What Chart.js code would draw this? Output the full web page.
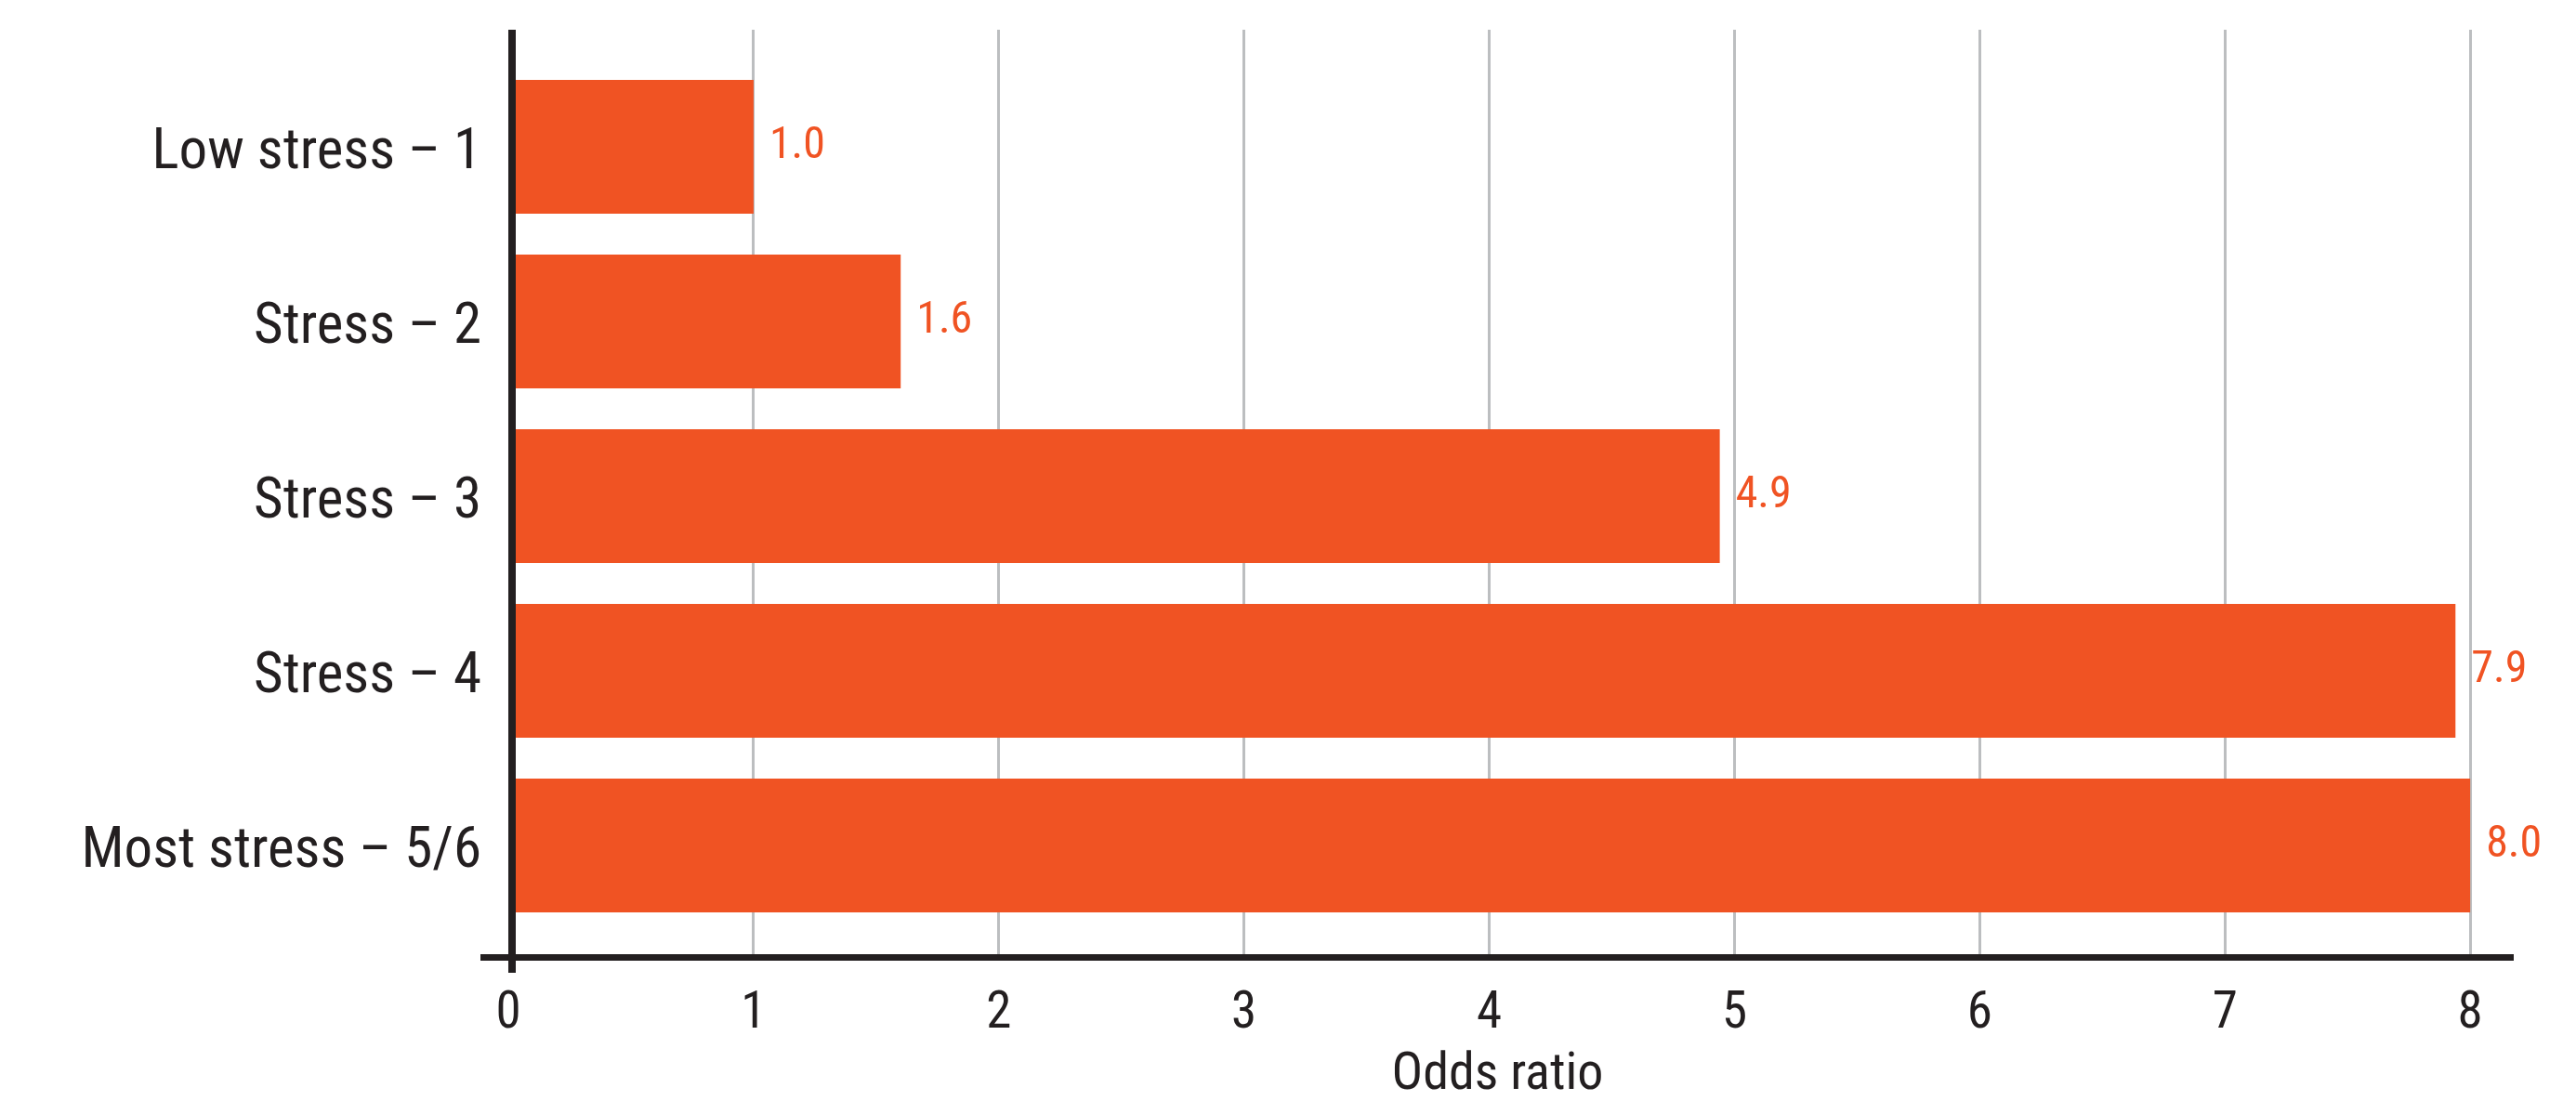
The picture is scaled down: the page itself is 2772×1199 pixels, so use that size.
<!DOCTYPE html>
<html>
<head>
<meta charset="utf-8">
<script src="https://cdn.jsdelivr.net/npm/chart.js@4/dist/chart.umd.min.js"></script>
<style>
    html, body { margin: 0; padding: 0; background: #fff; }
    #wrap { width: 2772px; height: 1199px; position: relative; }
</style>
</head>
<body>
<div id="wrap"><canvas id="oddsChart"></canvas></div>
<script>
const categories = ['Low stress – 1', 'Stress – 2', 'Stress – 3', 'Stress – 4', 'Most stress – 5/6'];
const oddsRatios = [1.0, 1.6, 4.94, 7.94, 8.0];
const xTicks = [0, 1, 2, 3, 4, 5, 6, 7, 8];
const axisTitle = 'Odds ratio';

const FONT = "'Roboto Condensed', 'DejaVu Sans Condensed', sans-serif";
const ORANGE = '#F05323';
const DARK = '#231F20';

// zero axis line + value labels, drawn on top of the bars
const overlayPlugin = {
    id: 'overlay',
    afterDatasetsDraw(chart) {
        const ctx = chart.ctx;
        const area = chart.chartArea;
        const x0 = chart.scales.x.getPixelForValue(0);
        ctx.save();
        ctx.fillStyle = DARK;
        ctx.fillRect(x0, area.top, 8, area.bottom - area.top + 17);

        ctx.font = '48px ' + FONT;
        ctx.fillStyle = ORANGE;
        ctx.textAlign = 'left';
        ctx.textBaseline = 'middle';
        chart.getDatasetMeta(0).data.forEach((bar, i) => {
            ctx.fillText(oddsRatios[i].toFixed(1), bar.x + 17, bar.y);
        });
        ctx.restore();
    }
};

const ctx = document.getElementById('oddsChart').getContext('2d');
new Chart(ctx, {
    type: 'bar',
    data: {
        datasets: [{
            data: oddsRatios.map((v, i) => ({ x: v, y: i })),
            backgroundColor: ORANGE,
            borderWidth: 0,
            categoryPercentage: 1,
            barPercentage: 0.766
        }]
    },
    options: {
        indexAxis: 'y',
        responsive: true,
        maintainAspectRatio: false,
        animation: false,
        layout: { padding: { top: 32, right: 69, bottom: 0, left: 0 } },
        scales: {
            x: {
                type: 'linear',
                min: -0.1023,
                max: 8.17,
                afterBuildTicks: axis => { axis.ticks = xTicks.map(v => ({ value: v })); },
                afterFit: scale => { scale.height = 169; },
                grid: {
                    color: c => (c.tick && c.tick.value === 0) ? 'rgba(0,0,0,0)' : '#BCBEC0',
                    lineWidth: 3,
                    drawTicks: false
                },
                border: { display: true, color: DARK, width: 7 },
                ticks: {
                    padding: 29,
                    color: DARK,
                    font: { family: FONT, size: 55 },
                    callback: v => v
                },
                title: {
                    display: true,
                    text: axisTitle,
                    color: DARK,
                    font: { family: FONT, size: 56 },
                    padding: { top: 0, bottom: 7 }
                }
            },
            y: {
                type: 'linear',
                reverse: true,
                offset: false,
                min: -0.670,
                max: 4.639,
                afterBuildTicks: axis => { axis.ticks = categories.map((c, i) => ({ value: i })); },
                afterFit: scale => {
                    scale.width = 520;
                    scale.paddingTop = 0;
                    scale.paddingBottom = 0;
                },
                grid: { display: false, drawTicks: false },
                border: { display: false },
                ticks: {
                    padding: 2,
                    labelOffset: 8,
                    color: DARK,
                    font: { family: FONT, size: 61 },
                    callback: v => categories[v]
                }
            }
        },
        plugins: {
            legend: { display: false },
            tooltip: { enabled: false }
        }
    },
    plugins: [overlayPlugin]
});
</script>
</body>
</html>
